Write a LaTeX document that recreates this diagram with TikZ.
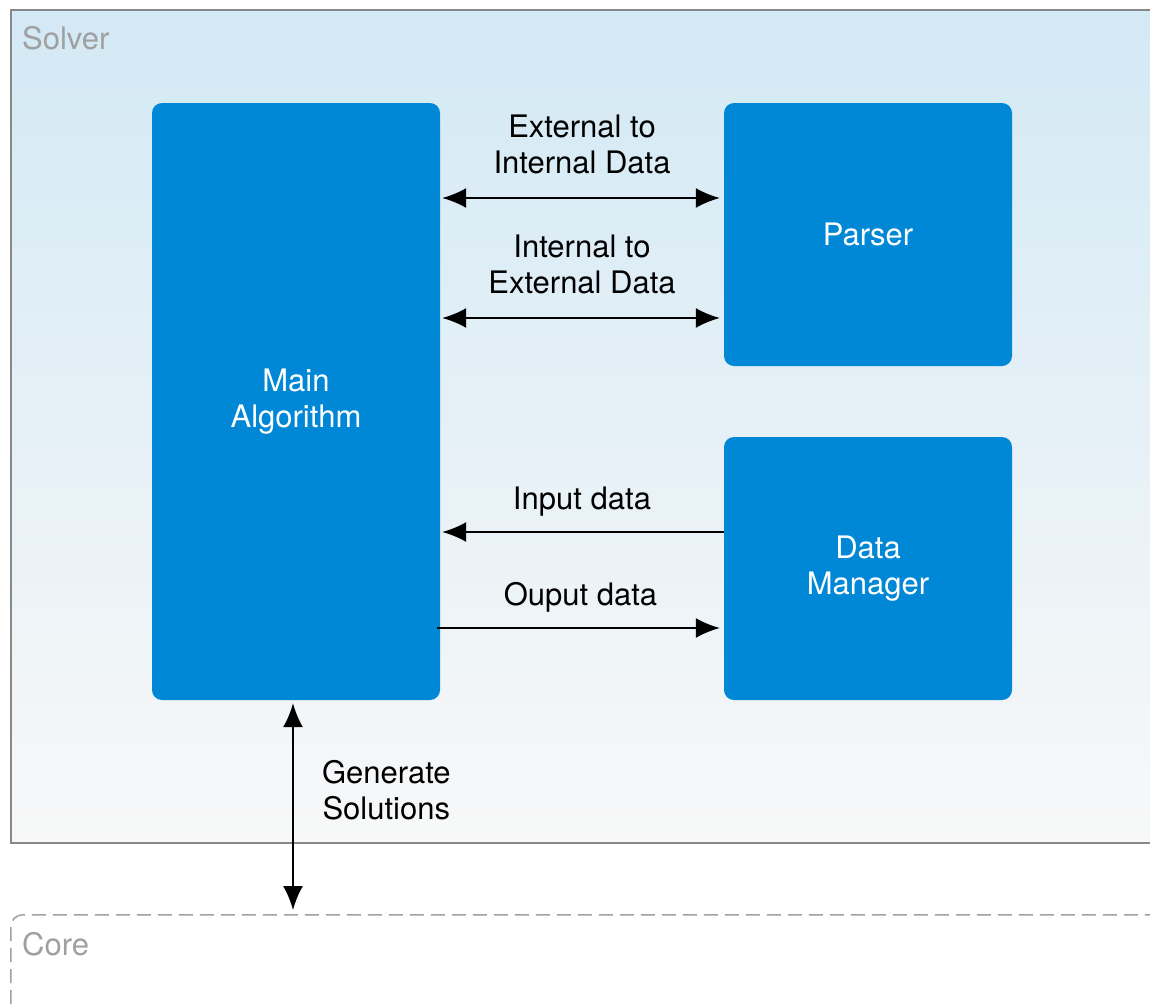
\documentclass[tikz,border=0pt]{standalone}
\usepackage{fontspec}
\setmainfont{TeX Gyre Heros}
\usetikzlibrary{arrows.meta,positioning}
\definecolor{mainblue}{RGB}{0,136,214}
\definecolor{framegray}{RGB}{136,136,136}
\definecolor{titlegray}{RGB}{160,160,160}
\definecolor{skytop}{RGB}{211,233,245}
\definecolor{skybottom}{RGB}{248,248,248}
\tikzset{
  block/.style = {fill=mainblue, rounded corners=10pt, text=white,
    align=center, minimum width=288pt},
  grouptitle/.style = {text=titlegray, inner sep=0pt, anchor=west},
  link/.style = {draw, line width=2pt, >={Latex[length=24pt,width=20pt]}},
  linklabel/.style = {inner sep=0pt, align=center},
}
\begin{document}
\begin{tikzpicture}[x=1pt, y=-1pt,
  every node/.style = {font=\fontsize{31}{36}\selectfont}]
  \useasboundingbox (0,0) rectangle (1150,1004);
  % containers
  \node[draw=framegray, line width=2pt, shade, top color=skytop,
    bottom color=skybottom, minimum width=1160pt, minimum height=833pt,
    anchor=north west] (solver) at (10,9) {};
  \node[grouptitle] (solvertitle) at ([xshift=12pt,yshift=-29pt]solver.north west) {Solver};
  \node[draw=titlegray, line width=1.5pt, dash pattern=on 14pt off 7pt,
    rounded corners=12pt, minimum width=1160pt, minimum height=200pt,
    anchor=north west] (core) at (10,914) {};
  \node[grouptitle] (coretitle) at ([xshift=12pt,yshift=-30pt]core.north west) {Core};
  % blocks
  \node[block, minimum height=597pt] (main) at (296,401.5) {Main\\Algorithm};
  \node[block, minimum height=263pt] (parser) at (868,234.5) {Parser};
  \node[block, minimum height=263pt] (datamgr) at (868,568.5) {Data\\Manager};
  % connectors
  \draw[link, <->, shorten <=2pt, shorten >=4pt] (main.east |- 0,198) -- (parser.west |- 0,198)
    node[linklabel, midway, above=23pt] {External to\\Internal Data};
  \draw[link, <->, shorten <=2pt, shorten >=4pt] (main.east |- 0,318) -- (parser.west |- 0,318)
    node[linklabel, midway, above=23pt] {Internal to\\External Data};
  \draw[link, ->, shorten >=2pt] (datamgr.west |- 0,532) -- (main.east |- 0,532)
    node[linklabel, midway, above=15pt] {Input data};
  \draw[link, ->, shorten >=4pt] ([xshift=-3pt]main.east |- 0,628) -- (datamgr.west |- 0,628)
    node[linklabel, midway, above=15pt] {Ouput data};
  \draw[link, <->, shorten <=3pt, shorten >=4pt] ([xshift=-3pt]main.south) -- ([xshift=-3pt]main.south |- core.north)
    node[linklabel, pos=0.42, right=28pt] {Generate\\Solutions};
\end{tikzpicture}
\end{document}
